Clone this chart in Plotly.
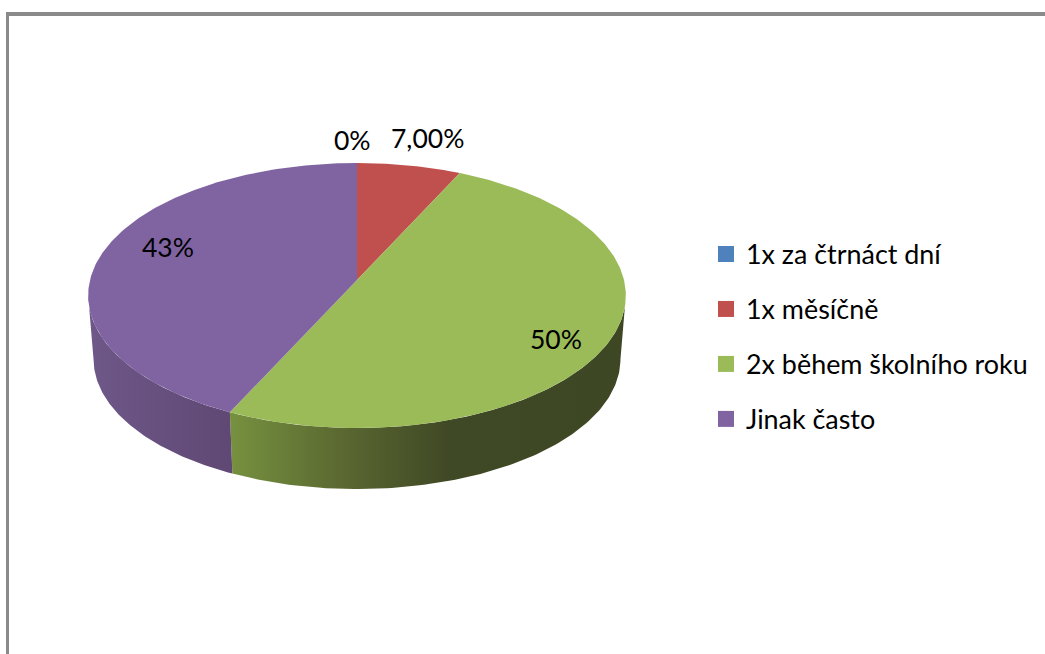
import numpy as np
import plotly.graph_objects as go

# chart values
categories = ["1x za čtrnáct dní", "1x měsíčně", "2x během školního roku", "Jinak často"]
values = [0, 7, 50, 43]
label_texts = ["0%", "7,00%", "50%", "43%"]
colors = ["#4F81BD", "#C0504D", "#9BBB59", "#8064A2"]

# placement of the drawing, in page pixels
W, H = 1045, 654
CX, CY = 357, 280
RX, RY = 267, 130.7
PERSP = 0.117
BOTTOM_CX, BOTTOM_CY = 357, 344
BOTTOM_SCALE = 0.98
LABEL_XY = [(352.5, 140), (427, 138), (555.5, 339), (168, 247)]

# side walls only show between these angles
FRONT_START, FRONT_END = 96.7, 263.3
SIDE_SCALES = {
    2: [[0, "#76913f"], [0.33, "#56622f"], [0.55, "#404925"], [1, "#3e4723"]],
    3: [[0, "#6e5889"], [1, "#5f4873"]],
}


def project(theta_deg, scale=1.0, cx=CX, cy=CY):
    """Tilted disc with perspective, theta clockwise from 12 o'clock."""
    t = np.radians(theta_deg)
    u, v = np.sin(t), np.cos(t)
    d = 1 + PERSP * v
    return cx + scale * RX * u / d, cy - scale * RY * v / d


fig = go.Figure()

# slice angles from the values
edges = np.cumsum([0] + values) / sum(values) * 360

# side walls first, tops go over them
for i in range(len(values)):
    a = max(edges[i], FRONT_START)
    b = min(edges[i + 1], FRONT_END)
    if b <= a:
        continue
    th = np.linspace(a, b, 120)
    x1, y1 = project(th)
    x2, y2 = project(th[::-1], BOTTOM_SCALE, BOTTOM_CX, BOTTOM_CY)
    xs = np.concatenate([x1, x2])
    ys = np.concatenate([y1, y2])
    side = dict(type="horizontal", colorscale=SIDE_SCALES[i], start=xs.min(), stop=xs.max())
    fig.add_trace(go.Scatter(x=xs, y=ys, mode="lines", fill="toself", line=dict(width=0),
                             fillgradient=side, showlegend=False, hoverinfo="skip"))

for i, name in enumerate(categories):
    if values[i] > 0:
        th = np.linspace(edges[i], edges[i + 1], 200)
        x1, y1 = project(th)
        fig.add_trace(go.Scatter(x=np.concatenate([[CX], x1]), y=np.concatenate([[CY], y1]),
                                 mode="lines", fill="toself", fillcolor=colors[i],
                                 line=dict(width=0), name=name, showlegend=False))

# legend keys
for i, name in enumerate(categories):
    fig.add_trace(go.Scatter(x=[None], y=[None], mode="markers", name=name, legendgroup=name,
                             marker=dict(symbol="square", size=16, color=colors[i])))

for (lx, ly), txt in zip(LABEL_XY, label_texts):
    fig.add_annotation(x=lx, y=ly, text=txt, showarrow=False, xref="x", yref="y",
                       font=dict(family="Lato", size=26.5, color="#000000"))

# frame round the chart area
fig.add_shape(type="line", x0=6, x1=W, y0=14, y1=14, line=dict(color="#8a8a8a", width=4))
fig.add_shape(type="line", x0=7.5, x1=7.5, y0=14, y1=H, line=dict(color="#8a8a8a", width=3))

fig.update_layout(
    width=W,
    height=H,
    margin=dict(l=0, r=0, t=0, b=0),
    paper_bgcolor="white",
    plot_bgcolor="white",
    font=dict(family="Lato", size=26.9, color="#000000"),
    legend=dict(x=706 / W, y=1 - 230 / H, xanchor="left", yanchor="top", tracegroupgap=17,
                bgcolor="rgba(0,0,0,0)", traceorder="grouped"),
)
fig.update_xaxes(range=[0, W], visible=False, fixedrange=True)
fig.update_yaxes(range=[H, 0], visible=False, fixedrange=True)

fig.write_html("out.html", config=dict(displayModeBar=False),
               post_script="document.body.style.margin='0';document.body.style.overflow='hidden';")
